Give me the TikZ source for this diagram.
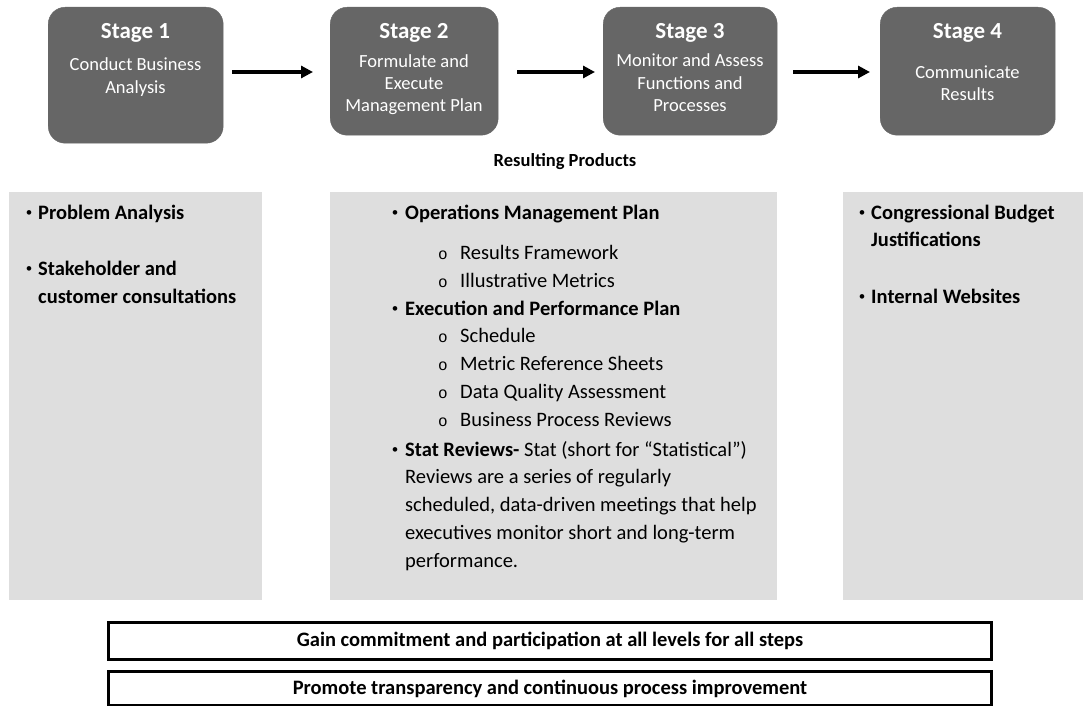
\documentclass[tikz,border=0pt]{standalone}
\usepackage{fontspec}
\setmainfont{Carlito}
\newfontfamily\markfont{Liberation Mono}
\usetikzlibrary{arrows.meta}
\definecolor{stagegray}{RGB}{102,102,102}
\definecolor{panelgray}{RGB}{222,222,222}
\tikzset{
  stagebox/.style={fill=stagegray, draw=stagegray, rounded corners=17pt, anchor=north west, inner sep=0pt},
  stagetitle/.style={text=white, font=\fontsize{23}{26}\selectfont\bfseries, inner sep=0pt, anchor=base},
  stagetext/.style={text=white, font=\fontsize{18.5}{22}\selectfont, inner sep=0pt, anchor=base},
  flow/.style={line width=4pt, -{Triangle[length=12pt,width=12pt]}},
  panel/.style={fill=panelgray, draw=none, anchor=north west, inner sep=0pt},
  line/.style={anchor=base west, inner sep=0pt, font=\fontsize{20.5}{24}\selectfont},
  bline/.style={line, font=\fontsize{20.5}{24}\selectfont\bfseries},
  dot/.style={anchor=base, inner sep=0pt, yshift=3pt, font=\fontsize{13}{14}\selectfont},
  circ/.style={anchor=base, inner sep=0pt, font=\fontsize{16}{18}\markfont},
  footbox/.style={draw=black, line width=3pt, anchor=north west, inner sep=0pt, minimum width=883pt, minimum height=37pt},
  foottext/.style={font=\fontsize{20.5}{24}\selectfont\bfseries, inner sep=0pt}
}
\begin{document}
\begin{tikzpicture}[x=1pt,y=-1pt]
\useasboundingbox (0,0) rectangle (1085,706);
% stage boxes
\node[stagebox, minimum width=175pt, minimum height=136pt] (s1) at (48,7) {};
\node[stagebox, minimum width=168pt, minimum height=128pt] (s2) at (330,7) {};
\node[stagebox, minimum width=174pt, minimum height=128pt] (s3) at (603,7) {};
\node[stagebox, minimum width=175pt, minimum height=128pt] (s4) at (880,7) {};
\node[stagetitle] (t1) at (135.5,38.5) {Stage 1};
\node[stagetitle] (t2) at (414,38.5) {Stage 2};
\node[stagetitle] (t3) at (690,38.5) {Stage 3};
\node[stagetitle] (t4) at (967.5,38.5) {Stage 4};
\node[stagetext] (d1a) at (135.5,71) {Conduct Business};
\node[stagetext] (d1b) at (135.5,93.5) {Analysis};
\node[stagetext] (d2a) at (414,68) {Formulate and};
\node[stagetext] (d2b) at (414,90) {Execute};
\node[stagetext] (d2c) at (414,112) {Management Plan};
\node[stagetext] (d3a) at (690,67) {Monitor and Assess};
\node[stagetext] (d3b) at (690,90) {Functions and};
\node[stagetext] (d3c) at (690,112) {Processes};
\node[stagetext] (d4a) at (967.5,79) {Communicate};
\node[stagetext] (d4b) at (967.5,101) {Results};
% arrows
\draw[flow, shorten <=9pt, shorten >=17pt] (s1.east |- 0,72) -- (s2.west |- 0,72);
\draw[flow, shorten <=19pt, shorten >=8pt] (s2.east |- 0,72) -- (s3.west |- 0,72);
\draw[flow, shorten <=16pt, shorten >=10pt] (s3.east |- 0,72) -- (s4.west |- 0,72);
% resulting products
\node[font=\fontsize{18.5}{22}\selectfont\bfseries, inner sep=0pt, anchor=base] (rp) at (565,167) {Resulting Products};
% panels
\node[panel, minimum width=253pt, minimum height=408pt] (p1) at (9,192) {};
\node[panel, minimum width=447pt, minimum height=408pt] (p2) at (330,192) {};
\node[panel, minimum width=240pt, minimum height=408pt] (p3) at (843,192) {};
% left panel
\node[dot] (l1b) at (29,219) {•};
\node[bline] (l1) at (38,219) {Problem Analysis};
\node[dot] (l2b) at (29,275) {•};
\node[bline] (l2) at (38,275) {Stakeholder and};
\node[bline] (l3) at (38,303) {customer consultations};
% middle panel
\node[dot] (m1b) at (395,219) {•};
\node[bline] (m1) at (405,219) {Operations Management Plan};
\node[circ] (m2b) at (443,259) {o};
\node[line] (m2) at (460,259) {Results Framework};
\node[circ] (m3b) at (443,287) {o};
\node[line] (m3) at (460,287) {Illustrative Metrics};
\node[dot] (m4b) at (395,315) {•};
\node[bline] (m4) at (405,315) {Execution and Performance Plan};
\node[circ] (m5b) at (443,342) {o};
\node[line] (m5) at (460,342) {Schedule};
\node[circ] (m6b) at (443,370) {o};
\node[line] (m6) at (460,370) {Metric Reference Sheets};
\node[circ] (m7b) at (443,398) {o};
\node[line] (m7) at (460,398) {Data Quality Assessment};
\node[circ] (m8b) at (443,426) {o};
\node[line] (m8) at (460,426) {Business Process Reviews};
\node[dot] (m9b) at (395,456) {•};
\node[line] (m9) at (405,456) {\textbf{Stat Reviews-} Stat (short for “Statistical”)};
\node[line] (m10) at (405,483) {Reviews are a series of regularly};
\node[line] (m11) at (405,511) {scheduled, data-driven meetings that help};
\node[line] (m12) at (405,539) {executives monitor short and long-term};
\node[line] (m13) at (405,567) {performance.};
% right panel
\node[dot] (r1b) at (862,219) {•};
\node[bline] (r1) at (871,219) {Congressional Budget};
\node[bline] (r2) at (871,247) {Justifications};
\node[dot] (r3b) at (862,303) {•};
\node[bline] (r3) at (871,303) {Internal Websites};
% footer boxes
\node[footbox] (f1) at (107,621) {};
\node[footbox, minimum height=34pt] (f2) at (107,670) {};
\node[foottext] (f1t) at (f1.center) {Gain commitment and participation at all levels for all steps};
\node[foottext] (f2t) at (f2.center) {Promote transparency and continuous process improvement};
\end{tikzpicture}
\end{document}
